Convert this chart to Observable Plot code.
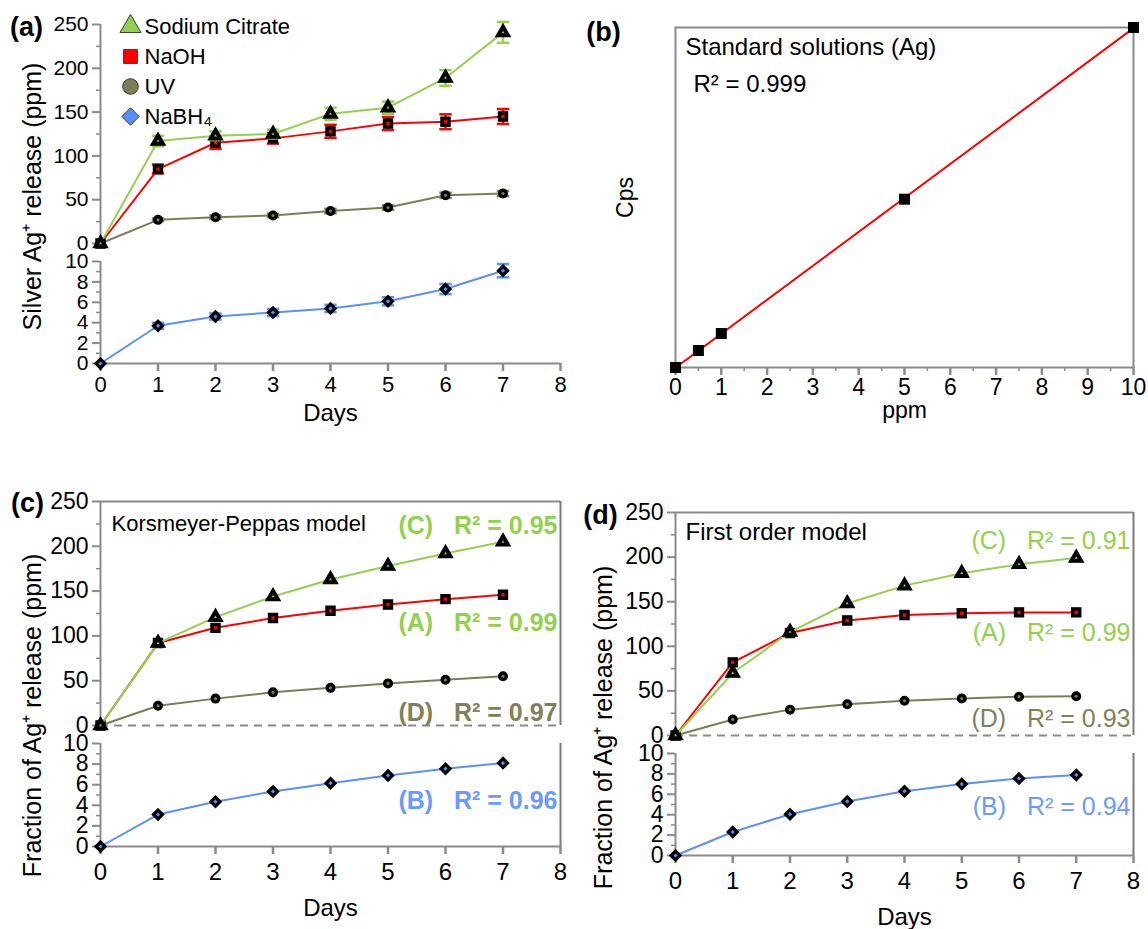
<!DOCTYPE html>
<html><head><meta charset="utf-8">
<script src="https://cdn.jsdelivr.net/npm/d3@7"></script>
<script src="https://cdn.jsdelivr.net/npm/@observablehq/plot@0.6"></script>
<style>
body{margin:0;background:#fff;}
#fig{position:relative;width:1148px;height:929px;overflow:hidden;background:#fff;}
#fig > div{position:absolute;}
#fig svg{overflow:visible;}
</style></head><body><div id="fig"></div>
<script>
// ---------- data ----------
const days = [0,1,2,3,4,5,6,7];
const dayTicks = [0,1,2,3,4,5,6,7,8];
const upperTicks = [0,50,100,150,200,250];
const upperMinor = [25,75,125,175,225];
const lowerTicks = [0,2,4,6,8,10];
const lowerMinor = [1,3,5,7,9];
const ppmTicks = [0,1,2,3,4,5,6,7,8,9,10];
const ppmMinor = [0.5,1.5,2.5,3.5,4.5,5.5,6.5,7.5,8.5,9.5];

// (a) measured release
const seriesNames = ["Sodium Citrate","NaOH","UV","NaBH\u2084"];
const citrateA = [0,117,123,125,148,155,189,241];
const citrateErr = [0,6,5,5,7,7,9,12];
const naohA = [0,85,115,120,128,137,139,145];
const naohErr = [0,5,7,6,7.5,7.5,8.5,8.5];
const uvA = [0,27,30,32,37,41,55,57];
const uvErr = [0,1.5,2,2,2.5,2.5,3,3];
const nabh4A = [0,3.7,4.6,5.0,5.4,6.1,7.3,9.1];
const nabh4Err = [0,0.3,0.3,0.35,0.35,0.4,0.5,0.65];

// (b) standard solutions
const stdPpm = [0,0.5,1,5,10];
const stdCps = [0,0.5,1.0,4.95,10];

// (c) Korsmeyer-Peppas model
const kpC = [0,92,121,144,163,178,192,205];
const kpA = [0,92,109,120,128,135,141,146];
const kpD = [0,22,30,37,42,47,51,55];
const kpB = [0,3.1,4.35,5.35,6.15,6.9,7.55,8.1];

// (d) First order model
const foC = [0,70,116,148,168,182,192,199];
const foA = [0,82,115,129,135,137,138,138];
const foD = [0,18,29,35,39,41.5,43.5,44];
const foB = [0,2.3,4.05,5.3,6.3,7.0,7.55,7.9];

// ---------- style ----------
const AX = "#8a8a8a";
const FONT = '"Liberation Sans", Arial, Helvetica, sans-serif';
const GREEN = "#92d050", RED = "#ff0000", OLIVE = "#7b7d55", BLUE = "#5b8ff9";
const OLIVE_TXT = "#7f8159", BLUE_TXT = "#6b9bfa";
const seriesColors = [GREEN, RED, OLIVE, BLUE];
const seriesSymbols = ["triangle","square","circle","diamond2"];

const fig = document.getElementById("fig");
function place(node, left, top, w){
  const d = document.createElement("div");
  d.style.left = left + "px"; d.style.top = top + "px"; d.style.width = w + "px";
  d.appendChild(node); fig.appendChild(d);
}
const st = (fs) => ({fontFamily: FONT, fontSize: fs + "px", background: "transparent", overflow: "visible", color: "#000"});

function rows(vals, err){ return days.map((d,i) => ({day: d, v: vals[i], e: err ? err[i] : 0})); }
const cap = {draw(ctx, size){ const w = Math.sqrt(size)/2; ctx.moveTo(-w,0); ctx.lineTo(w,0); }};
const symR = {triangle: 5.4, square: 5.2, circle: 4.4, diamond2: 5.3};

function seriesMarks(data, color, symbol, err){
  const m = [Plot.line(data, {x: "day", y: "v", stroke: color, strokeWidth: 2})];
  if (err){
    const ed = data.filter(d => d.e > 0);
    m.push(Plot.ruleX(ed, {x: "day", y1: d => d.v - d.e, y2: d => d.v + d.e, stroke: color, strokeWidth: 2.5}));
    m.push(Plot.dot(ed, {x: "day", y: d => d.v + d.e, symbol: cap, r: 7, stroke: color, strokeWidth: 2.5, fill: "none"}));
    m.push(Plot.dot(ed, {x: "day", y: d => d.v - d.e, symbol: cap, r: 7, stroke: color, strokeWidth: 2.5, fill: "none"}));
  }
  const R = symR[symbol];
  m.push(Plot.dot(data, {x: "day", y: "v", symbol, r: R, fill: "#000", stroke: "#000", strokeWidth: 1.2}));
  m.push(Plot.dot(data, {x: "day", y: "v", symbol, r: R * (symbol === "triangle" ? 0.2 : 0.36), fill: color}));
  return m;
}
function yAxis(major, minor, fs){
  return [
    Plot.ruleX([0], {stroke: AX, strokeWidth: 2}),
    Plot.axisY(minor, {tickSize: 4, tickFormat: () => "", stroke: AX, fill: "none", strokeWidth: 1.5, label: null}),
    Plot.axisY(major, {tickSize: 8, tickPadding: 4, stroke: AX, strokeWidth: 2, fontSize: fs, label: null})
  ];
}
function xAxis(major, fs, pad){
  return [
    Plot.ruleY([0], {stroke: AX, strokeWidth: 2}),
    Plot.axisX(major, {tickSize: 8, tickPadding: pad, stroke: AX, strokeWidth: 2.5, fontSize: fs, label: null})
  ];
}
function label(txt, o){
  return Plot.text([txt], {text: d => d, lineAnchor: "middle", ...o});
}

// ---------- (a) upper ----------
place(Plot.plot({
  width: 580, height: 253, marginLeft: 100, marginRight: 20, marginTop: 24, marginBottom: 10,
  style: st(21),
  x: {domain: [0,8], axis: null},
  y: {domain: [0,250]},
  marks: [
    ...yAxis(upperTicks, upperMinor, 21),
    ...seriesMarks(rows(uvA, uvErr), OLIVE, "circle", true),
    ...seriesMarks(rows(naohA, naohErr), RED, "square", true),
    ...seriesMarks(rows(citrateA, citrateErr), GREEN, "triangle", true),
    label("Silver Ag\u207A release (ppm)", {frameAnchor: "top-left", dx: -68, dy: 172, rotate: -90, textAnchor: "middle", fontSize: 25}),
    label("(a)", {frameAnchor: "top-left", dx: -74, dy: 3, textAnchor: "middle", fontWeight: "bold", fontSize: 27})
  ]
}), 0, 0, 580);

// ---------- (a) lower ----------
place(Plot.plot({
  width: 580, height: 177, marginLeft: 100, marginRight: 20, marginTop: 8, marginBottom: 67,
  style: st(21),
  x: {domain: [0,8]},
  y: {domain: [0,10]},
  marks: [
    ...yAxis(lowerTicks, lowerMinor, 21),
    ...xAxis(dayTicks, 22, 5),
    ...seriesMarks(rows(nabh4A, nabh4Err), BLUE, "diamond2", true),
    label("Days", {frameAnchor: "bottom", dy: 50, textAnchor: "middle", fontSize: 24})
  ]
}), 0, 253, 580);

// ---------- (a) legend ----------
const legendData = seriesNames.map((n,i) => ({name: n, color: seriesColors[i], symbol: seriesSymbols[i]}));
place(Plot.plot({
  width: 200, height: 135, margin: 0,
  style: st(22),
  x: {domain: [0,1], axis: null},
  y: {type: "point", domain: seriesNames, range: [26,116], padding: 0, axis: null},
  marks: [
    Plot.dot(legendData, {y: "name", frameAnchor: "left", dx: 20, symbol: "symbol", fill: "color", stroke: "#3a3a3a", strokeWidth: 1, r: 7.8}),
    Plot.text(legendData, {y: "name", text: "name", frameAnchor: "left", dx: 34, textAnchor: "start", lineAnchor: "middle", fontSize: 22})
  ]
}), 110, 0, 200);

// ---------- (b) ----------
const stdData = stdPpm.map((p,i) => ({ppm: p, cps: stdCps[i]}));
place(Plot.plot({
  width: 568, height: 430, marginLeft: 95, marginRight: 15, marginTop: 27, marginBottom: 63,
  style: st(23),
  x: {domain: [0,10]},
  y: {domain: [0,10], axis: null},
  marks: [
    Plot.frame({stroke: AX, strokeWidth: 2}),
    Plot.axisX(ppmMinor, {tickSize: 4, tickFormat: () => "", stroke: AX, fill: "none", strokeWidth: 1.5, label: null}),
    Plot.axisX(ppmTicks, {tickSize: 8, tickPadding: 3, stroke: AX, strokeWidth: 2.5, fontSize: 23, label: null}),
    Plot.linearRegressionY(stdData, {x: "ppm", y: "cps", stroke: RED, strokeWidth: 2, ci: 0}),
    Plot.dot(stdData, {x: "ppm", y: "cps", symbol: "square", r: 6.2, fill: "#000"}),
    label("ppm", {frameAnchor: "bottom", dy: 43, textAnchor: "middle", fontSize: 23}),
    label("Cps", {frameAnchor: "left", dx: -50, rotate: -90, textAnchor: "middle", fontSize: 23}),
    label("Standard solutions (Ag)", {frameAnchor: "top-left", dx: 10, dy: 20, textAnchor: "start", fontSize: 24}),
    label("R\u00B2 = 0.999", {frameAnchor: "top-left", dx: 18, dy: 57, textAnchor: "start", fontSize: 24}),
    label("(b)", {frameAnchor: "top-left", dx: -72, dy: 5, textAnchor: "middle", fontWeight: "bold", fontSize: 27})
  ]
}), 580, 0, 568);

// ---------- model panels ----------
function modelPanel(cfg){
  const S = "\u00A0\u00A0\u00A0";
  const upper = Plot.plot({
    width: cfg.w, height: cfg.h1, marginLeft: 100, marginRight: cfg.mr, marginTop: cfg.mt1, marginBottom: 10,
    style: st(23),
    x: {domain: [0,8], axis: null},
    y: {domain: [0,250]},
    marks: [
      ...yAxis(upperTicks, upperMinor, 23),
      Plot.ruleY([250], {stroke: AX, strokeWidth: 2}),
      Plot.ruleX([8], {stroke: "#7a7a7a", strokeWidth: 2}),
      Plot.ruleY([0], {stroke: AX, strokeWidth: 2, strokeDasharray: "8,6"}),
      ...seriesMarks(rows(cfg.D), OLIVE, "circle", false),
      ...seriesMarks(rows(cfg.A), RED, "square", false),
      ...seriesMarks(rows(cfg.C), GREEN, "triangle", false),
      label(cfg.title, {frameAnchor: "top-left", dx: cfg.tdx, dy: cfg.tdy, textAnchor: "start", fontSize: cfg.tfs}),
      label("(C)" + S + "R\u00B2 = " + cfg.r2[0], {frameAnchor: "top-right", dx: -3, dy: cfg.dyC, textAnchor: "end", fill: GREEN, fontWeight: cfg.fw, fontSize: 25}),
      label("(A)" + S + "R\u00B2 = " + cfg.r2[1], {frameAnchor: "top-right", dx: -3, dy: cfg.dyA, textAnchor: "end", fill: GREEN, fontWeight: cfg.fw, fontSize: 25}),
      label("(D)" + S + "R\u00B2 = " + cfg.r2[2], {frameAnchor: "top-right", dx: -3, dy: cfg.dyD, textAnchor: "end", fill: OLIVE_TXT, fontWeight: cfg.fw, fontSize: 25}),
      label("Fraction of Ag\u207A release (ppm)", {frameAnchor: "top-left", dx: cfg.ydx, dy: cfg.ydy, rotate: -90, textAnchor: "middle", fontSize: 25}),
      label(cfg.panel, {frameAnchor: "top-left", dx: cfg.pdx, dy: cfg.pdy, textAnchor: "middle", fontWeight: "bold", fontSize: 27})
    ]
  });
  const lower = Plot.plot({
    width: cfg.w, height: cfg.h2, marginLeft: 100, marginRight: cfg.mr, marginTop: 8, marginBottom: cfg.mb2,
    style: st(23),
    x: {domain: [0,8]},
    y: {domain: [0,10]},
    marks: [
      ...yAxis(lowerTicks, lowerMinor, 23),
      ...xAxis(dayTicks, 24, 8),
      Plot.ruleX([8], {stroke: "#7a7a7a", strokeWidth: 2}),
      ...seriesMarks(rows(cfg.B), BLUE, "diamond2", false),
      label("(B)" + S + "R\u00B2 = " + cfg.r2[3], {frameAnchor: "top-right", dx: -3, dy: cfg.dyB, textAnchor: "end", fill: BLUE_TXT, fontWeight: cfg.fw, fontSize: 25}),
      label("Days", {frameAnchor: "bottom", dy: 62, textAnchor: "middle", fontSize: 24})
    ]
  });
  place(upper, cfg.left, cfg.top1, cfg.w);
  place(lower, cfg.left, cfg.top2, cfg.w);
}

modelPanel({
  panel: "(c)", title: "Korsmeyer-Peppas model", tfs: 22, fw: "bold", r2: ["0.95","0.99","0.97","0.96"],
  C: kpC, A: kpA, D: kpD, B: kpB,
  left: 0, w: 580, mr: 20, top1: 480, h1: 255, mt1: 21, top2: 735, h2: 194, mb2: 83,
  tdx: 11, tdy: 22, dyC: 24, dyA: 121, dyD: 211, dyB: 57, ydx: -68, ydy: 214, pdx: -73, pdy: 2
});
modelPanel({
  panel: "(d)", title: "First order model", tfs: 24, fw: "normal", r2: ["0.91","0.99","0.93","0.94"],
  C: foC, A: foA, D: foD, B: foB,
  left: 575, w: 573, mr: 15, top1: 480, h1: 265, mt1: 32, top2: 745, h2: 184, mb2: 74,
  tdx: 10, tdy: 20, dyC: 28, dyA: 120, dyD: 206, dyB: 53, ydx: -72, ydy: 215, pdx: -75, pdy: 3
});
</script></body></html>
